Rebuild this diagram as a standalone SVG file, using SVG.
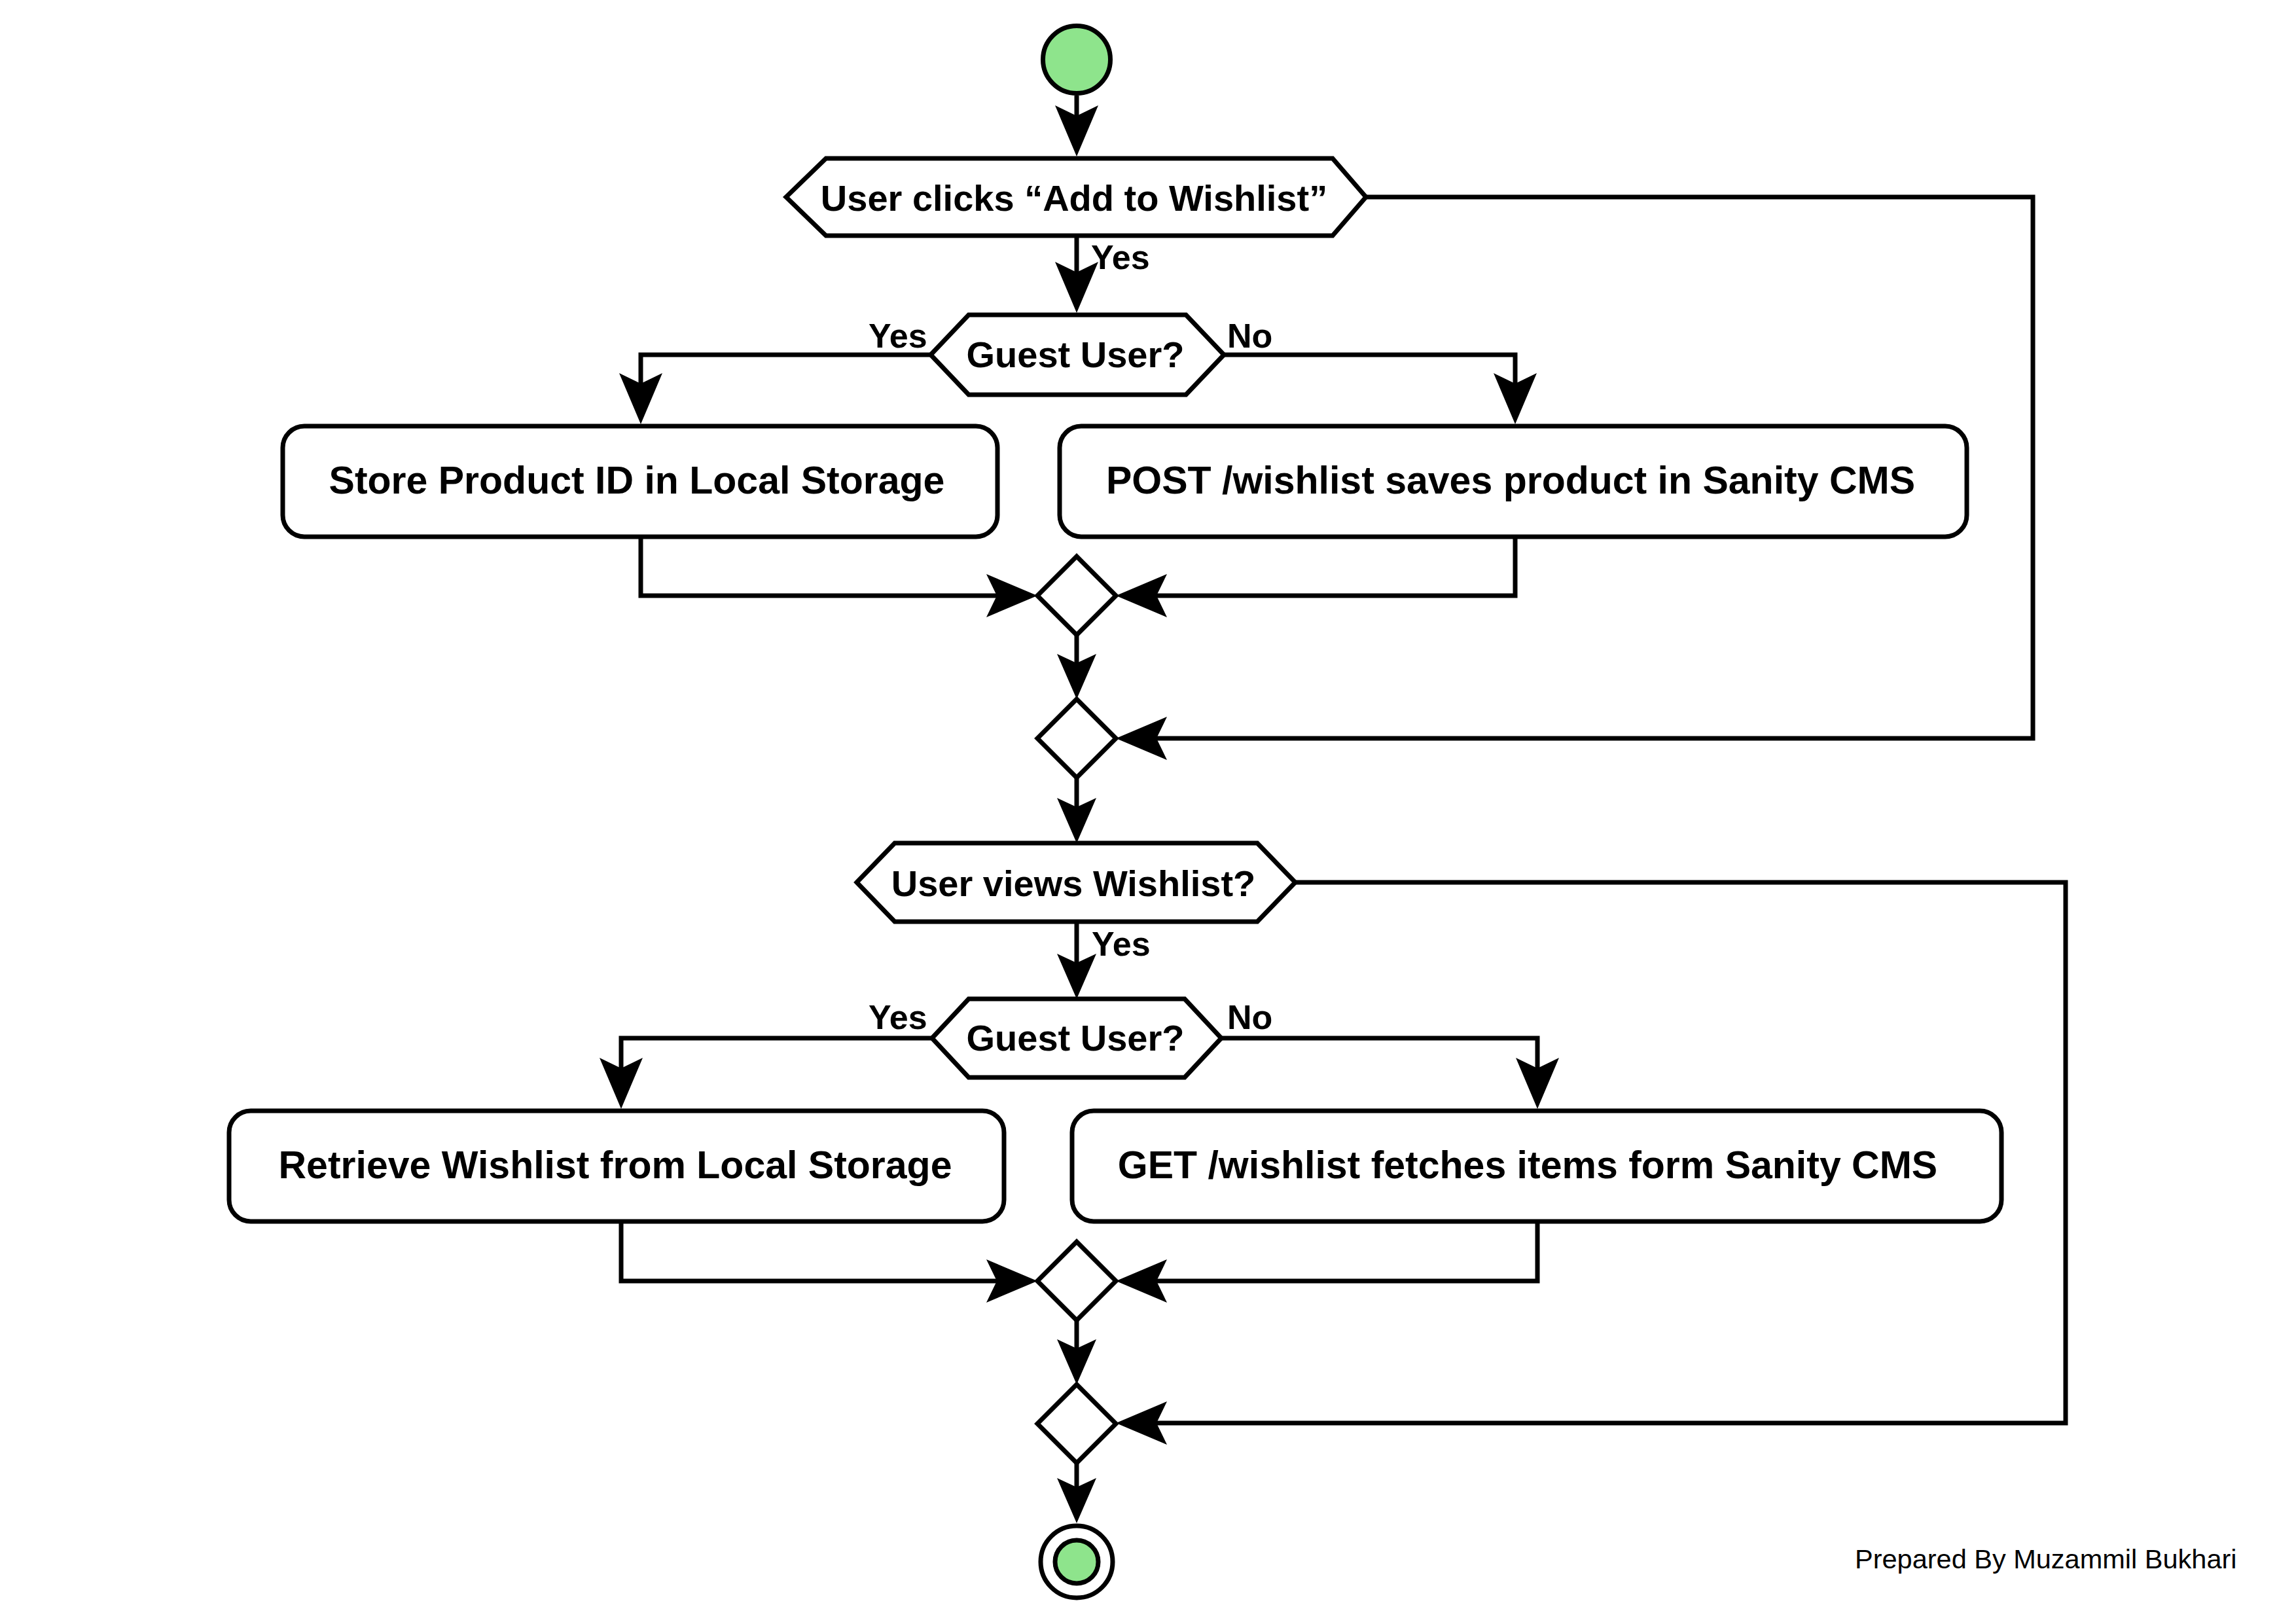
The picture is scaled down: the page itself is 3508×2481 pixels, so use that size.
<svg xmlns="http://www.w3.org/2000/svg" width="3508" height="2481" viewBox="0 0 3508 2481">
  <style>
    .shape { fill: #ffffff; stroke: #000000; stroke-width: 7; stroke-linejoin: miter; }
    .green { fill: #8ee48c; stroke: #000000; stroke-width: 7; }
    .edge { fill: none; stroke: #000000; stroke-width: 7; stroke-linejoin: miter; }
    .big { marker-end: url(#arrBig); }
    .small { marker-end: url(#arrSmall); }
    .t { font-family: "Liberation Sans", Arial, Helvetica, sans-serif; font-weight: bold; fill: #000000; text-anchor: middle; }
    .hex { font-size: 56px; }
    .box { font-size: 59px; }
    .lbl { font-family: "Liberation Sans", Arial, Helvetica, sans-serif; font-weight: bold; font-size: 52px; fill: #000000; }
    .foot { font-family: "Liberation Sans", Arial, Helvetica, sans-serif; font-size: 41.5px; fill: #000000; }
  </style>
  <defs>
    <!-- open-notched filled arrowheads; the path ends at the notch -->
    <marker id="arrBig" viewBox="-80 -35 82 70" refX="-62" refY="0" markerWidth="82" markerHeight="70" markerUnits="userSpaceOnUse" orient="auto">
      <path d="M0,0 L-78,-33 L-62,0 L-78,33 Z" fill="#000000"/>
    </marker>
    <marker id="arrSmall" viewBox="-72 -32 74 64" refX="-55" refY="0" markerWidth="74" markerHeight="64" markerUnits="userSpaceOnUse" orient="auto">
      <path d="M0,0 L-69,-30 L-55,0 L-69,30 Z" fill="#000000"/>
    </marker>
  </defs>

  <rect width="3508" height="2481" fill="#ffffff"/>

  <!-- connectors -->
  <g id="connectors">
    <path class="edge big" d="M1645,146 L1645,177"/>
    <path class="edge big" d="M1645,363 L1645,416"/>
    <path class="edge big" d="M1422,542 L979,542 L979,586"/>
    <path class="edge big" d="M1870,542 L2315,542 L2315,586"/>
    <path class="edge big" d="M979,820 L979,910 L1523,910"/>
    <path class="edge big" d="M2315,820 L2315,910 L1767,910"/>
    <path class="edge small" d="M1645,970 L1645,1013"/>
    <path class="edge big" d="M2087,301 L3106,301 L3106,1128 L1767,1128"/>
    <path class="edge small" d="M1645,1188 L1645,1233"/>
    <path class="edge small" d="M1645,1408 L1645,1471"/>
    <path class="edge big" d="M1424,1586 L949,1586 L949,1632"/>
    <path class="edge big" d="M1866,1586 L2349,1586 L2349,1632"/>
    <path class="edge big" d="M949,1866 L949,1957 L1523,1957"/>
    <path class="edge big" d="M2349,1866 L2349,1957 L1767,1957"/>
    <path class="edge small" d="M1645,2017 L1645,2060"/>
    <path class="edge big" d="M1979,1348 L3156,1348 L3156,2174 L1767,2174"/>
    <path class="edge small" d="M1645,2235 L1645,2272"/>

    <text class="lbl" x="1667" y="411">Yes</text>
    <text class="lbl" x="1327" y="531">Yes</text>
    <text class="lbl" x="1875" y="531">No</text>
    <text class="lbl" x="1668" y="1460">Yes</text>
    <text class="lbl" x="1327" y="1572">Yes</text>
    <text class="lbl" x="1875" y="1572">No</text>
  </g>

  <!-- start -->
  <g id="start">
    <circle class="green" cx="1645" cy="91" r="51.5"/>
  </g>

  <!-- decision: add to wishlist -->
  <g id="addToWishlist">
    <polygon class="shape" points="1201,301 1262,242 2036,242 2087,301 2036,360 1262,360"/>
    <text class="t hex" x="1641" y="322">User clicks “Add to Wishlist”</text>
  </g>

  <g id="guestAdd">
    <polygon class="shape" points="1422,542 1480,481 1812,481 1870,542 1812,603 1480,603"/>
    <text class="t hex" x="1643" y="561">Guest User?</text>
  </g>

  <g id="storeLocal">
    <rect class="shape" x="432" y="651" width="1092" height="169" rx="33" ry="33"/>
    <text class="t box" x="973" y="754">Store Product ID in Local Storage</text>
  </g>

  <g id="postWishlist">
    <rect class="shape" x="1619" y="651" width="1386" height="169" rx="33" ry="33"/>
    <text class="t box" x="2308" y="754">POST /wishlist saves product in Sanity CMS</text>
  </g>

  <g id="mergeAdd">
    <polygon class="shape" points="1645,850 1705,910 1645,970 1585,910"/>
  </g>

  <g id="mergeSkipAdd">
    <polygon class="shape" points="1645,1068 1705,1128 1645,1188 1585,1128"/>
  </g>

  <!-- decision: view wishlist -->
  <g id="viewWishlist">
    <polygon class="shape" points="1309,1348 1367,1288 1921,1288 1979,1348 1921,1408 1367,1408"/>
    <text class="t hex" x="1640" y="1369">User views Wishlist?</text>
  </g>

  <g id="guestView">
    <polygon class="shape" points="1424,1586 1480,1526 1810,1526 1866,1586 1810,1646 1480,1646"/>
    <text class="t hex" x="1643" y="1605">Guest User?</text>
  </g>

  <g id="retrieveLocal">
    <rect class="shape" x="350" y="1697" width="1184" height="169" rx="33" ry="33"/>
    <text class="t box" x="940" y="1800">Retrieve Wishlist from Local Storage</text>
  </g>

  <g id="getWishlist">
    <rect class="shape" x="1638" y="1697" width="1420" height="169" rx="33" ry="33"/>
    <text class="t box" x="2334" y="1800">GET /wishlist fetches items form Sanity CMS</text>
  </g>

  <g id="mergeView">
    <polygon class="shape" points="1645,1897 1705,1957 1645,2017 1585,1957"/>
  </g>

  <g id="mergeSkipView">
    <polygon class="shape" points="1645,2115 1705,2175 1645,2235 1585,2175"/>
  </g>

  <!-- end -->
  <g id="end">
    <circle class="shape" cx="1645" cy="2386" r="55"/>
    <circle class="green" cx="1645" cy="2386" r="33"/>
  </g>

  <text class="foot" x="2834" y="2396">Prepared By Muzammil Bukhari</text>
</svg>
